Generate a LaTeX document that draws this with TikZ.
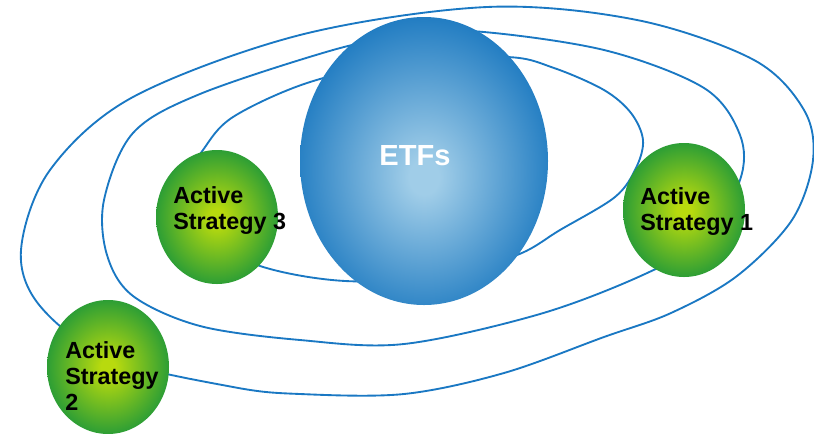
\documentclass[tikz,border=0pt]{standalone}
\usepackage{fontspec}
\setmainfont{Liberation Sans}
\usetikzlibrary{shapes.geometric}

\definecolor{orbitblue}{RGB}{26,120,195}
\definecolor{blueC}{RGB}{160,205,232}
\definecolor{blueE}{RGB}{20,116,190}
\definecolor{greenC}{RGB}{184,218,14}
\definecolor{greenE}{RGB}{26,150,58}

% soft radial fills for the spheres
\pgfdeclareradialshading{etfball}{\pgfpoint{0bp}{-3bp}}{%
  color(0bp)=(blueC); color(3bp)=(blueC); color(29bp)=(blueE); color(50bp)=(blueE)}
\pgfdeclareradialshading{greenball}{\pgfpoint{0bp}{0bp}}{%
  color(0bp)=(greenC); color(3bp)=(greenC); color(28bp)=(greenE); color(50bp)=(greenE)}

\tikzset{
  orbit/.style={draw=orbitblue, line width=1.4pt, line join=round},
  bigball/.style={ellipse, inner sep=0pt, minimum width=186pt, minimum height=216pt,
    shade, shading=etfball},
  smallball/.style={ellipse, inner sep=0pt, minimum width=91.5pt, minimum height=100.5pt,
    shade, shading=greenball},
  balllabel/.style={font={\fontsize{17.5}{19.5}\selectfont\bfseries}, align=left,
    anchor=north west, inner sep=0pt, text=black},
  etflabel/.style={font={\fontsize{21.8}{24}\selectfont\bfseries}, text=white, inner sep=0pt}
}

\begin{document}
\begin{tikzpicture}[x=0.75pt, y=-0.75pt]
\useasboundingbox (0,0) rectangle (814,433);

% orbits (drawn first so the spheres cover them)
\draw[orbit] plot[smooth cycle, tension=0.55] coordinates {
  (487,7) (637,20) (754,60) (804,110) (813,160) (792,220) (737,276) (671,313)
  (604,337) (504,373) (404,394) (300,394) (233,387) (110,358) (40,306) (21,250)
  (50,170) (133,97) (300,35)};
\draw[orbit] plot[smooth cycle, tension=0.55] coordinates {
  (471,31) (604,50) (704,88) (740,135) (740,180) (705,238) (645,274) (540,314)
  (404,344) (300,340) (200,326) (133,296) (107,255) (104,200) (133,133) (200,94)
  (333,50) (400,37)};
\draw[orbit] plot[smooth cycle, tension=0.55] coordinates {
  (507,57) (554,68) (604,90) (631,113) (643,140) (636,168) (615,197) (560,230)
  (517,255) (440,276) (345,281) (260,266) (195,232) (182,188) (203,150) (233,117)
  (307,83) (400,62)};

% spheres
\node[bigball] (etf) at (424,161) {};
\node[smallball] (as3) at (217,217) {};
\node[smallball] (as1) at (684,210) {};
\node[smallball] (as2) at (108,367) {};

% labels
\node[etflabel] (etft) at (415,156) {ETFs};
\node[balllabel] (as3t) at (173,186) {Active\\Strategy 3};
\node[balllabel] (as1t) at (640,187) {Active\\Strategy 1};
\node[balllabel] (as2t) at (65,341) {Active\\Strategy\\2};
\end{tikzpicture}
\end{document}
